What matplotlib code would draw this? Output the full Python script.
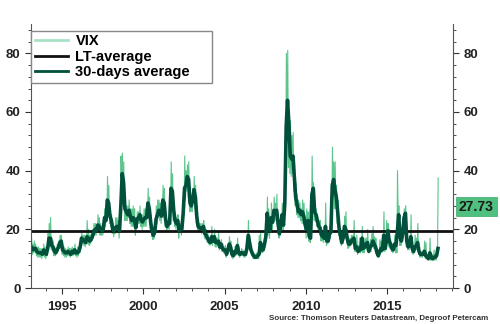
import numpy as np
import matplotlib
matplotlib.use('Agg')
import matplotlib.pyplot as plt
from matplotlib.ticker import MultipleLocator

plt.rcParams['font.family'] = ['Liberation Sans', 'DejaVu Sans']

# monthly readings, Jan 1993 .. Feb 2018 (30-day average, monthly VIX high / low)
avg30 = [
    13.5, 14.0, 13.0, 13.5, 13.5, 12.5, 12.0, 12.0, 12.0, 11.5, 13.0, 12.0,  # 1993
    11.5, 13.5, 17.0, 17.0, 14.5, 14.0, 12.5, 12.0, 13.0, 14.0, 15.5, 16.0,  # 1994
    13.0, 12.5, 12.0, 12.0, 12.5, 12.0, 11.5, 12.5, 12.0, 13.0, 12.0, 12.0,  # 1995
    12.5, 14.0, 17.0, 16.5, 16.0, 15.5, 17.5, 17.0, 16.0, 16.5, 17.5, 19.0,  # 1996
    20.0, 19.5, 21.5, 21.0, 20.0, 19.5, 20.0, 24.0, 23.0, 30.0, 29.0, 24.5,  # 1997
    23.0, 20.0, 19.5, 20.5, 21.0, 21.0, 19.5, 28.0, 39.0, 36.0, 27.0, 26.0,  # 1998
    25.0, 26.5, 24.5, 23.0, 24.0, 23.5, 20.5, 23.5, 24.0, 25.0, 23.0, 22.5,  # 1999
    23.5, 24.0, 24.0, 29.0, 27.0, 22.5, 19.5, 18.0, 19.0, 23.5, 25.0, 26.5,  # 2000
    25.5, 24.5, 30.0, 29.0, 23.5, 21.0, 22.0, 22.0, 34.0, 33.0, 26.5, 23.0,  # 2001
    22.0, 23.0, 19.5, 20.5, 20.0, 25.5, 34.0, 35.0, 38.0, 37.0, 29.0, 28.0,  # 2002
    30.0, 33.5, 31.0, 24.5, 21.0, 20.5, 20.5, 20.0, 21.0, 18.5, 18.0, 17.0,  # 2003
    16.0, 15.5, 17.5, 16.0, 17.5, 15.5, 15.5, 16.0, 14.0, 15.0, 13.5, 13.0,  # 2004
    13.0, 11.5, 13.0, 15.0, 14.0, 11.5, 11.0, 12.5, 12.0, 14.5, 12.0, 11.5,  # 2005
    12.0, 12.0, 11.5, 11.5, 13.5, 18.0, 15.5, 13.0, 11.8, 11.0, 10.5, 10.5,  # 2006
    11.0, 11.5, 15.5, 13.0, 13.0, 15.0, 17.5, 25.5, 22.0, 19.5, 24.0, 22.5,  # 2007
    26.5, 26.0, 26.5, 22.0, 18.5, 21.5, 25.0, 21.5, 29.0, 55.0, 64.0, 56.0,  # 2008
    45.0, 44.0, 45.0, 38.0, 31.0, 28.5, 26.0, 26.5, 25.0, 26.0, 24.5, 21.5,  # 2009
    20.0, 23.0, 17.5, 17.0, 32.0, 34.0, 26.0, 25.0, 23.0, 21.0, 20.5, 18.0,  # 2010
    17.5, 17.0, 21.0, 16.0, 16.0, 18.5, 19.0, 35.0, 37.0, 33.5, 31.0, 26.0,  # 2011
    20.5, 18.0, 15.5, 17.0, 21.0, 20.0, 17.0, 15.0, 15.0, 16.0, 16.5, 17.0,  # 2012
    13.5, 14.0, 12.5, 13.5, 13.0, 17.0, 13.5, 14.0, 15.0, 15.5, 12.5, 14.0,  # 2013
    14.5, 16.0, 15.0, 14.0, 12.0, 11.0, 12.5, 13.5, 13.0, 18.0, 13.5, 16.0,  # 2014
    19.5, 16.0, 15.0, 13.5, 13.0, 15.0, 14.5, 19.0, 25.0, 17.5, 16.0, 18.5,  # 2015
    24.0, 25.5, 16.0, 14.0, 14.5, 17.5, 13.5, 12.5, 14.0, 14.5, 15.5, 12.5,  # 2016
    11.5, 11.5, 11.5, 12.5, 11.0, 10.5, 10.0, 12.0, 10.5, 10.0, 10.5, 10.5,  # 2017
    11.0, 13.5,  # 2018
]
vix_hi = [
    15, 17, 15, 16, 15, 14, 14, 13.5, 13.5, 13, 15, 14,
    13, 19, 22, 24, 17, 16, 14, 13.5, 15, 16, 18, 18,
    14.5, 14, 13.5, 13, 14, 13.5, 13.5, 14, 13.5, 15, 13, 14,
    14, 17, 19, 18, 18, 17.5, 23, 20, 18, 19, 20, 22,
    22, 21, 25, 24, 22, 21, 22, 27, 26, 38, 35, 27,
    25, 22, 21, 24, 24, 23, 22, 45, 46, 43, 31, 28,
    28, 30, 27, 27, 28, 27, 23, 26, 26, 28, 25, 25,
    27, 27, 28, 34, 31, 25, 21, 19.5, 21, 28, 30, 30,
    29, 27, 35, 34, 26, 23, 24, 26, 43, 39, 30, 25,
    24, 25, 21, 22, 22, 28, 45, 40, 42, 43, 32, 31,
    34, 38, 35, 28, 23, 22, 22, 22, 23, 20, 20, 19,
    17, 17, 21, 18, 20, 17, 17, 19, 15, 16.5, 15, 14,
    14.5, 12.5, 14.5, 17.5, 16, 12.5, 12, 14, 13, 17, 14, 12.5,
    13.5, 13, 12.5, 12.5, 17, 23, 18, 14.5, 13, 12, 11.5, 12,
    12, 18, 19, 14.5, 14.5, 17, 22, 31, 27, 23, 29, 25,
    31, 29, 32, 25, 20, 25, 29, 23, 46, 80, 81, 60,
    57, 52, 53, 45, 36, 32, 30, 29, 27, 30, 29, 24,
    27, 26, 18.5, 22, 45, 36, 30, 27, 25, 23, 23, 19,
    19.5, 21, 29, 17.5, 18, 21, 25, 48, 43, 43, 35, 30,
    23, 19.5, 17, 20, 24.5, 26, 19.5, 17, 17, 18, 18, 23,
    14.5, 18, 14.5, 17, 15, 21, 15, 17, 17, 20, 14, 16.5,
    18.5, 21, 17.5, 17, 13, 12, 16.5, 16, 16, 26, 15, 23,
    22, 20, 16.5, 14.5, 14, 18, 17, 40, 28, 22, 18, 24,
    27, 28, 20, 15.5, 16, 25, 15, 13.5, 18, 17, 22, 14,
    12.5, 12.5, 13, 16, 15.5, 11.5, 11, 17, 12, 11.5, 13, 11.5,
    12, 37.5,
]
vix_lo = [
    12, 12, 11.5, 12, 12, 11, 10.5, 10.5, 10.5, 10, 11, 10.5,
    10, 11, 14, 14, 13, 12.5, 11, 11, 12, 12.5, 13.5, 14,
    11.5, 11, 10.5, 10.5, 11, 11, 10.5, 11, 11, 11.5, 11, 10.5,
    11, 12, 15, 15, 14.5, 14, 15, 15, 14.5, 15, 16, 17,
    18, 18, 19, 19, 18, 18, 18, 21, 21, 23, 24, 22,
    21, 18.5, 17.5, 18.5, 19, 19, 17, 20, 31, 28, 23, 23,
    23, 24, 22, 21, 21, 21, 18, 21, 22, 22, 21, 20,
    21, 21, 21, 24, 24, 20, 17.5, 16.5, 17, 20, 22, 24,
    23, 22, 25, 24, 21, 19, 20, 20, 26, 27, 23, 21,
    20, 21, 17, 19, 18, 23, 27, 30, 33, 31, 26, 26,
    26, 30, 27, 22, 19, 19, 19, 18.5, 19, 17, 16.5, 15.5,
    15, 14.5, 15, 14.5, 15.5, 14, 14, 14.5, 13, 13.5, 12.5, 12,
    12, 10.5, 11.5, 13, 12.5, 10.5, 10, 11, 11, 12, 11, 10.5,
    11, 11, 10.5, 10.5, 11, 14, 13, 12, 11, 10, 10, 10,
    10, 10, 12, 12, 12, 13, 14, 19, 18, 17, 21, 19,
    22, 23, 23, 19, 17, 18, 22, 19, 21, 40, 50, 41,
    39, 38, 39, 33, 28, 25, 24, 24, 23, 22, 22, 20,
    17, 20, 16, 15.5, 21, 30, 23, 22.5, 21, 19, 18.5, 16,
    16, 15.5, 17, 14.5, 15, 16, 17, 25, 31, 27, 27, 22,
    18, 16.5, 14.5, 15, 17, 17, 15.5, 13.5, 14, 14.5, 15, 15,
    12.5, 12.5, 11.5, 12, 12, 14, 12, 12, 13.5, 13, 12, 12.5,
    12.5, 14, 13.5, 13, 11, 10.5, 11, 12, 12, 14, 12.5, 13,
    17, 14, 13.5, 12.5, 12, 13, 12, 12, 22, 14.5, 14.5, 16,
    19, 21, 14, 13, 13, 14, 12, 11.5, 12, 13, 13, 11.5,
    10.5, 10.5, 10.5, 11, 10, 10, 9.5, 10, 9.5, 9.5, 9.5, 9.5,
    9.5, 13,
]
lt_average = 19.5
last_value = '27.73'
start_year = 1993

light = '#5cc58c'
dark = '#00503c'

n = len(avg30)
t = start_year + np.arange(n) / 12
t_avg = t + 0.5 / 12
# interleave monthly low / high to draw the daily VIX as a spiky line
t_vix = np.column_stack([t + 0.2 / 12, t + 0.65 / 12]).ravel()
vix = np.column_stack([vix_lo, vix_hi]).ravel()

fig = plt.figure(figsize=(5, 3.24), dpi=100)
ax = fig.add_axes([0.062, 0.111, 0.844, 0.815])

ax.plot(t_vix, vix, c=light, lw=0.8, label='VIX')
ax.axhline(lt_average, c='#111111', lw=2, label='LT-average')
ax.plot(t_avg, avg30, c=dark, lw=2.6, label='30-days average')

ax.set_xlim(1993.1, 2019.05)
ax.set_ylim(0, 90)
ax.xaxis.set_major_locator(MultipleLocator(5))
ax.xaxis.set_minor_locator(MultipleLocator(1))
ax.yaxis.set_major_locator(MultipleLocator(20))
ax.yaxis.set_minor_locator(MultipleLocator(4))
ax.tick_params(axis='both', which='both', direction='out', colors='#333333',
               labelsize=9.5, labelcolor='#222222', right=True, labelright=True)
ax.tick_params(which='major', length=4)
ax.tick_params(which='minor', length=2)
ax.tick_params(axis='x', pad=5)
for lab in ax.get_xticklabels() + ax.get_yticklabels():
    lab.set_fontweight('bold')
for side in ['left', 'right', 'bottom']:
    ax.spines[side].set_color('#555555')
ax.spines['top'].set_visible(False)

# legend box stretched to the reference width
leg = ax.legend(loc='upper left', bbox_to_anchor=(0.0, 0.975, 0.43, 0.0), mode='expand',
                fancybox=False, edgecolor='#888888', framealpha=1,
                handlelength=2.3, handletextpad=0.5,
                borderaxespad=0, prop={'weight': 'bold', 'size': 10.5},
                labelspacing=0.1, borderpad=0.25)
leg.get_lines()[0].set_color('#a8e2c6')
leg.get_lines()[0].set_linewidth(2)
leg.get_lines()[2].set_linewidth(2)
leg.get_frame().set_linewidth(1)

ax.text(1.014, float(last_value), last_value, transform=ax.get_yaxis_transform(),
        ha='left', va='center', fontsize=10, fontweight='bold', color='#1a1a1a',
        bbox=dict(boxstyle='square,pad=0.2', fc='#4fc07f', ec='#3aa868', lw=0.5))

fig.text(0.976, 0.018, 'Source: Thomson Reuters Datastream, Degroof Petercam',
         ha='right', va='center', fontsize=5.8, fontweight='bold', color='#333333')

fig.savefig('out.png', dpi=100)
